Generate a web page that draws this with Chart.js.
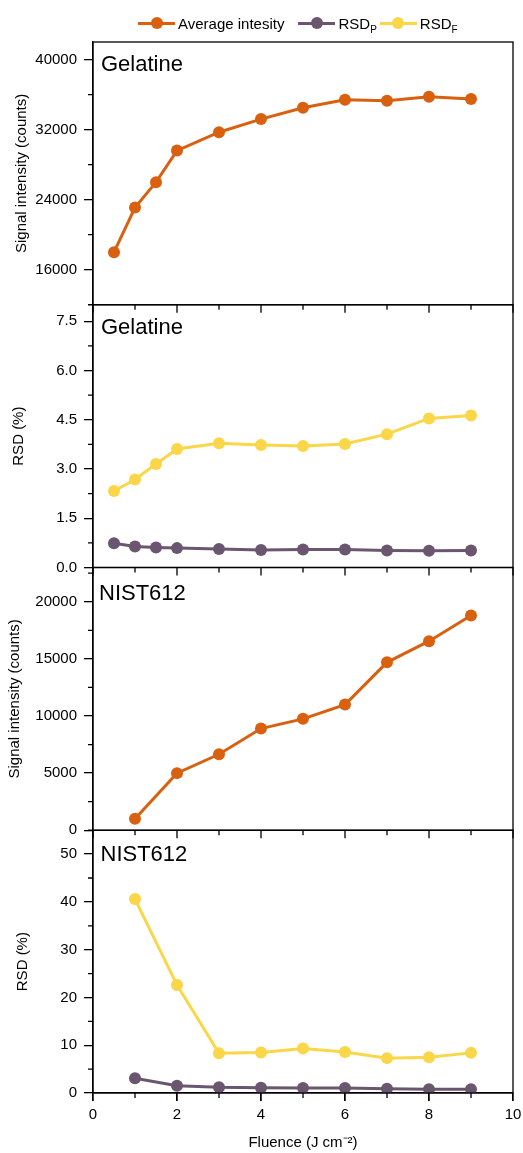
<!DOCTYPE html>
<html>
<head>
<meta charset="utf-8">
<script src="https://cdn.jsdelivr.net/npm/chart.js@4/dist/chart.umd.min.js"></script>
<style>
  body { margin: 0; background: #fff; }
  #wrap { position: relative; width: 523px; height: 1153px; }
  #legend { position: absolute; left: 138px; top: 13px; display: flex; align-items: center; font-family: 'Liberation Sans', Arial, sans-serif; font-size: 15px; color: #000; }
  .item { display: flex; align-items: center; }
  .sw { position: relative; width: 37px; height: 20px; margin-right: 3px; }
  .sw .ln { position: absolute; left: 0; right: 0; top: 8.5px; height: 3px; }
  .sw .dt { position: absolute; left: 12.5px; top: 4px; width: 12px; height: 12px; border-radius: 50%; }
  sub { font-size: 10px; vertical-align: -4px; line-height: 0; }
</style>
</head>
<body>
<div id="wrap">
  <canvas id="chart" width="523" height="1153"></canvas>
  <div id="legend"></div>
</div>
<script>
// Fluence (J cm-2)
const gelFluence = [0.5, 1, 1.5, 2, 3, 4, 5, 6, 7, 8, 9];
const nistFluence = [1, 2, 3, 4, 5, 6, 7, 8, 9];

// Gelatine
const gelIntensity = [18000, 23100, 26000, 29600, 31700, 33200, 34500, 35400, 35300, 35750, 35500];
const gelRsdF = [2.33, 2.68, 3.15, 3.61, 3.78, 3.73, 3.70, 3.76, 4.06, 4.54, 4.63];
const gelRsdP = [0.74, 0.64, 0.61, 0.59, 0.56, 0.53, 0.55, 0.55, 0.52, 0.51, 0.52];

// NIST612
const nistIntensity = [1000, 5000, 6650, 8900, 9750, 11000, 14700, 16550, 18800];
const nistRsdF = [40.6, 22.6, 8.3, 8.5, 9.3, 8.6, 7.3, 7.5, 8.4];
const nistRsdP = [3.1, 1.5, 1.2, 1.1, 1.05, 1.05, 0.9, 0.8, 0.8];

// ticks
const xTicks = [0, 2, 4, 6, 8, 10];
const gelIntTicks = [16000, 24000, 32000, 40000];
const gelRsdTicks = [0, 1.5, 3, 4.5, 6, 7.5];
const nistIntTicks = [0, 5000, 10000, 15000, 20000];
const nistRsdTicks = [0, 10, 20, 30, 40, 50];

const panelNames = ["Gelatine", "Gelatine", "NIST612", "NIST612"];
const legendLabels = ["Average intesity", "RSD_P", "RSD_F"];

const ORANGE = "#d9600f", PURPLE = "#6b5670", YELLOW = "#fad648";
const legendColors = [ORANGE, PURPLE, YELLOW];

// legend (html, para ter subscrito)
const legendEl = document.getElementById("legend");
legendLabels.forEach((lab, i) => {
  const parts = lab.split("_");
  const txt = parts[1] ? `${parts[0]}<sub>${parts[1]}</sub>` : parts[0];
  const mr = i === 0 ? 14 : (i === 1 ? 3 : 0);
  legendEl.innerHTML += `<div class="item" style="margin-right:${mr}px"><div class="sw"><div class="ln" style="background:${legendColors[i]}"></div><div class="dt" style="background:${legendColors[i]}"></div></div><span>${txt}</span></div>`;
});

const pts = (xs, ys) => xs.map((x, i) => ({ x, y: ys[i] }));
const ds = (label, xs, ys, color, axis) => ({
  label, data: pts(xs, ys), yAxisID: axis,
  borderColor: color, backgroundColor: color, borderWidth: 3,
  pointRadius: 6, pointHoverRadius: 6, pointBorderWidth: 0, tension: 0
});

Chart.defaults.font.family = "'Liberation Sans', Arial, sans-serif";
Chart.defaults.font.size = 15;
Chart.defaults.color = "#000";

const yAxis = (ticksArr, min, max, weight, titleText, titlePad, fmt) => ({
  type: "linear", position: "left", stack: "panels", stackWeight: 1, weight,
  min, max,
  afterBuildTicks: s => { s.ticks = ticksArr.map(v => ({ value: v })); },
  afterFit: s => { s.width = 93; },
  ticks: { padding: 7, callback: fmt || (v => String(v)) },
  grid: { drawOnChartArea: false, tickLength: 9, color: "#000", lineWidth: 1.3 },
  border: { color: "#000", width: 1.3 },
  title: { display: true, text: titleText, padding: { top: titlePad, bottom: 0 }, font: { size: 15 } }
});

// minor ticks, moldura e nomes dos painéis
const panelAxes = [
  { id: "yGI", minor: 4000, tx: 101, ty: 28.5 },
  { id: "yGR", minor: 0.75, tx: 101, ty: 29 },
  { id: "yNI", minor: 2500, tx: 99, ty: 32.5 },
  { id: "yNR", minor: 5, tx: 100.5, ty: 30.5 }
];
const panelFrame = {
  id: "panelFrame",
  afterDraw(chart) {
    const { ctx, chartArea, scales } = chart;
    const xs = scales.x;
    ctx.save();
    ctx.strokeStyle = "#000";
    ctx.lineWidth = 1.3;
    panelAxes.forEach((p, i) => {
      const s = scales[p.id];
      ctx.strokeRect(chartArea.left, s.top, chartArea.right - chartArea.left, s.bottom - s.top);
      ctx.beginPath();
      for (let v = xs.min; v <= xs.max; v += 1) {
        const px = xs.getPixelForValue(v);
        const len = v % 2 ? 5 : 8;
        ctx.moveTo(px, s.bottom);
        ctx.lineTo(px, s.bottom + len);
      }
      for (let v = s.min; v <= s.max + 1e-9; v += p.minor) {
        const isMajor = s.ticks.some(t => Math.abs(t.value - v) < 1e-6);
        if (isMajor) continue;
        const py = s.getPixelForValue(v);
        ctx.moveTo(chartArea.left, py);
        ctx.lineTo(chartArea.left - 5, py);
      }
      ctx.stroke();
      ctx.fillStyle = "#000";
      ctx.font = "22px 'Liberation Sans', Arial, sans-serif";
      ctx.textBaseline = "alphabetic";
      ctx.fillText(panelNames[i], p.tx, s.top + p.ty);
    });
    ctx.restore();
  }
};

new Chart(document.getElementById("chart"), {
  type: "line",
  data: {
    datasets: [
      ds("Average intesity", gelFluence, gelIntensity, ORANGE, "yGI"),
      ds("RSD_P", gelFluence, gelRsdP, PURPLE, "yGR"),
      ds("RSD_F", gelFluence, gelRsdF, YELLOW, "yGR"),
      ds("Average intesity", nistFluence, nistIntensity, ORANGE, "yNI"),
      ds("RSD_P", nistFluence, nistRsdP, PURPLE, "yNR"),
      ds("RSD_F", nistFluence, nistRsdF, YELLOW, "yNR")
    ]
  },
  options: {
    responsive: false,
    animation: false,
    devicePixelRatio: 1,
    layout: { padding: { top: 42, right: 10, bottom: 0, left: 0 } },
    plugins: { legend: { display: false }, tooltip: { enabled: false } },
    scales: {
      x: {
        type: "linear", position: "bottom", min: 0, max: 10,
        afterBuildTicks: s => { s.ticks = xTicks.map(v => ({ value: v })); },
        afterFit: s => { s.height = 60; s.paddingLeft = 0; s.paddingRight = 0; },
        ticks: { padding: 5 },
        grid: { drawOnChartArea: false, tickLength: 8, color: "#000", lineWidth: 1.3 },
        border: { color: "#000", width: 1.3 },
        title: { display: true, text: "Fluence (J cm\u207B\u00B2)", padding: { top: 0, bottom: 1 }, font: { size: 15 } }
      },
      yNR: yAxis(nistRsdTicks, 0, 55, 1, "RSD (%)", 13.5),
      yNI: yAxis(nistIntTicks, 0, 23000, 2, "Signal intensity (counts)", 6),
      yGR: yAxis(gelRsdTicks, 0, 8, 3, "RSD (%)", 10, v => Number(v).toFixed(1)),
      yGI: yAxis(gelIntTicks, 12000, 42000, 4, "Signal intensity (counts)", 13)
    }
  },
  plugins: [panelFrame]
});
</script>
</body>
</html>
